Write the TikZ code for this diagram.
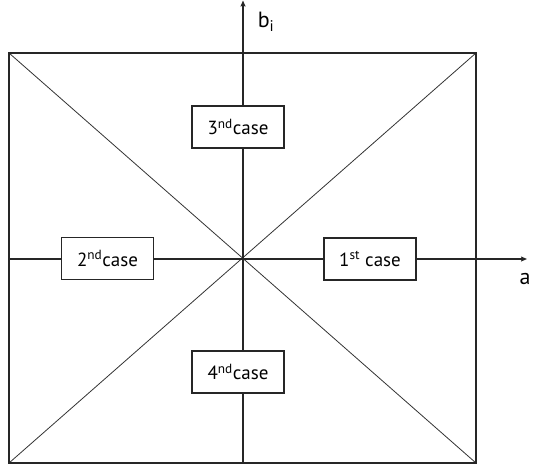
\documentclass[tikz,border=0pt]{standalone}
\usepackage{fontspec}
\setmainfont{PT Sans}
\usetikzlibrary{arrows.meta}
\begin{document}
\begin{tikzpicture}[x=1pt,y=-1pt,
  frame/.style={draw=black!85,line width=1.8pt},
  diag/.style={draw=black!80,line width=0.8pt},
  axis/.style={draw=black!85,line width=1.4pt,-{Stealth[length=6pt,width=5pt,inset=1pt]}},
  casebox/.style={draw=black!85,fill=white,line width=1.4pt,minimum width=92pt,minimum height=42pt,inner sep=0pt,font=\fontsize{19}{21}\selectfont},
  lbl/.style={font=\fontsize{22}{24}\selectfont,inner sep=0pt}]
\useasboundingbox (0,0) rectangle (534,471);
\coordinate (tl) at (9,53);
\coordinate (tr) at (476,53);
\coordinate (br) at (476,463);
\coordinate (bl) at (9,463);
\coordinate (vb) at (243,463);
\coordinate (vt) at (243,0.5);
\coordinate (hl) at (9,259);
\coordinate (hr) at (527,259);
\draw[diag] (tl) -- (br);
\draw[diag] (tr) -- (bl);
\draw[frame] (tl) rectangle (br);
\draw[axis] (vb) -- (vt);
\draw[axis] (hl) -- (hr);
\node[lbl] (b) at (266,22) {b\textsubscript{i}};
\node[lbl] (a) at (525,279) {a};
\node[casebox] (c3) at (238,127) {3\textsuperscript{nd}case};
\node[casebox] (c4) at (238,372) {4\textsuperscript{nd}case};
\node[casebox] (c2) at (107.5,258.5) {2\textsuperscript{nd}case};
\node[casebox] (c1) at (370,259) {1\textsuperscript{st} case};
\end{tikzpicture}
\end{document}
